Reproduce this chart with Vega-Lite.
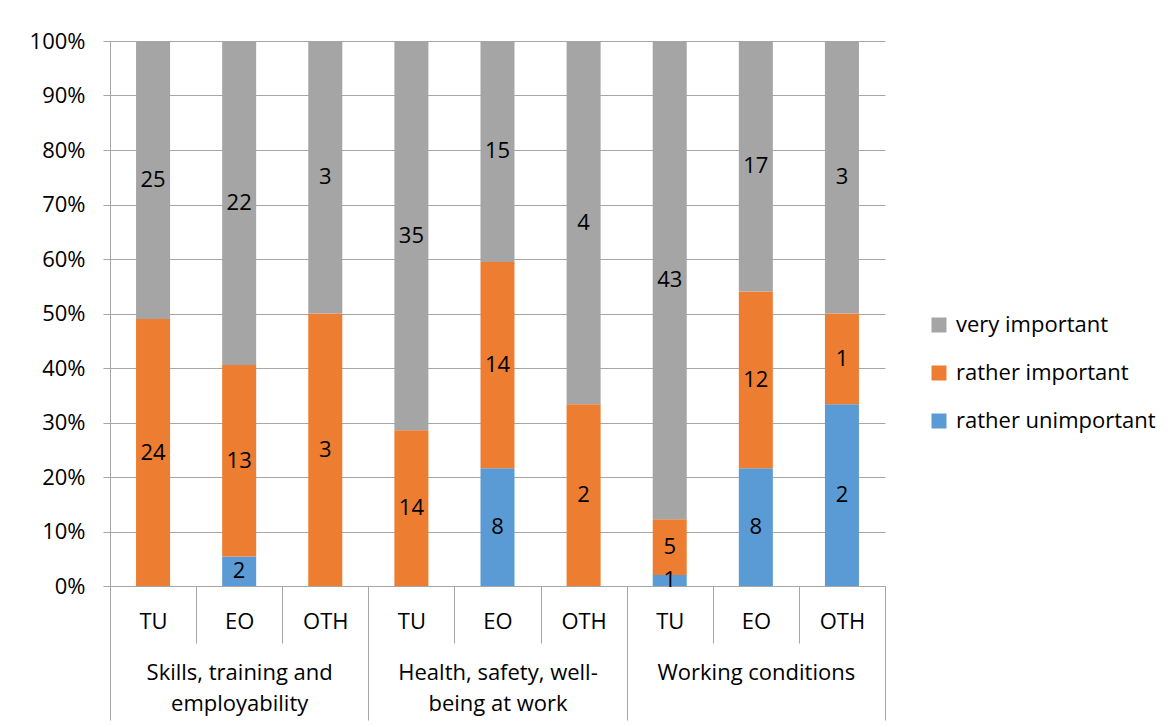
{
  "$schema": "https://vega.github.io/schema/vega-lite/v6.json",
  "autosize": {"type": "none"},
  "padding": {"left": 110, "top": 41, "right": 288, "bottom": 141},
  "width": 775,
  "height": 545,
  "background": "white",
  "config": {
    "font": "Open Sans",
    "view": {"stroke": null},
    "axis": {"labelFont": "Open Sans", "labelFontSize": 22, "labelColor": "#000000", "titleFont": "Open Sans", "labelLimit": 400},
    "legend": {"labelLimit": 400}
  },
  "data": {
    "values": [
      {"topic": "Skills, training and employability", "org": "TU", "key": "1|TU", "level": "rather important", "rank": 2, "count": 24},
      {"topic": "Skills, training and employability", "org": "TU", "key": "1|TU", "level": "very important", "rank": 3, "count": 25},
      {"topic": "Skills, training and employability", "org": "EO", "key": "1|EO", "level": "rather unimportant", "rank": 1, "count": 2},
      {"topic": "Skills, training and employability", "org": "EO", "key": "1|EO", "level": "rather important", "rank": 2, "count": 13},
      {"topic": "Skills, training and employability", "org": "EO", "key": "1|EO", "level": "very important", "rank": 3, "count": 22},
      {"topic": "Skills, training and employability", "org": "OTH", "key": "1|OTH", "level": "rather important", "rank": 2, "count": 3},
      {"topic": "Skills, training and employability", "org": "OTH", "key": "1|OTH", "level": "very important", "rank": 3, "count": 3},
      {"topic": "Health, safety, well-being at work", "org": "TU", "key": "2|TU", "level": "rather important", "rank": 2, "count": 14},
      {"topic": "Health, safety, well-being at work", "org": "TU", "key": "2|TU", "level": "very important", "rank": 3, "count": 35},
      {"topic": "Health, safety, well-being at work", "org": "EO", "key": "2|EO", "level": "rather unimportant", "rank": 1, "count": 8},
      {"topic": "Health, safety, well-being at work", "org": "EO", "key": "2|EO", "level": "rather important", "rank": 2, "count": 14},
      {"topic": "Health, safety, well-being at work", "org": "EO", "key": "2|EO", "level": "very important", "rank": 3, "count": 15},
      {"topic": "Health, safety, well-being at work", "org": "OTH", "key": "2|OTH", "level": "rather important", "rank": 2, "count": 2},
      {"topic": "Health, safety, well-being at work", "org": "OTH", "key": "2|OTH", "level": "very important", "rank": 3, "count": 4},
      {"topic": "Working conditions", "org": "TU", "key": "3|TU", "level": "rather unimportant", "rank": 1, "count": 1},
      {"topic": "Working conditions", "org": "TU", "key": "3|TU", "level": "rather important", "rank": 2, "count": 5},
      {"topic": "Working conditions", "org": "TU", "key": "3|TU", "level": "very important", "rank": 3, "count": 43},
      {"topic": "Working conditions", "org": "EO", "key": "3|EO", "level": "rather unimportant", "rank": 1, "count": 8},
      {"topic": "Working conditions", "org": "EO", "key": "3|EO", "level": "rather important", "rank": 2, "count": 12},
      {"topic": "Working conditions", "org": "EO", "key": "3|EO", "level": "very important", "rank": 3, "count": 17},
      {"topic": "Working conditions", "org": "OTH", "key": "3|OTH", "level": "rather unimportant", "rank": 1, "count": 2},
      {"topic": "Working conditions", "org": "OTH", "key": "3|OTH", "level": "rather important", "rank": 2, "count": 1},
      {"topic": "Working conditions", "org": "OTH", "key": "3|OTH", "level": "very important", "rank": 3, "count": 3}
    ]
  },
  "layer": [
    {
      "encoding": {
        "x": {
          "field": "key", "type": "nominal", "sort": null,
          "scale": {"paddingInner": 0, "paddingOuter": 0},
          "axis": {
            "title": null, "labelAngle": 0, "labelExpr": "split(datum.label, '|')[1]",
            "tickBand": "extent", "tickSize": 57, "tickColor": "#A6A6A6", "domainColor": "#A6A6A6",
            "labelPadding": -32, "labelBaseline": "top", "grid": false
          }
        },
        "y": {
          "field": "count", "type": "quantitative", "stack": "normalize",
          "scale": {"domain": [0, 1]},
          "axis": {
            "title": null, "format": ".0%", "values": [0, 0.1, 0.2, 0.3, 0.4, 0.5, 0.6, 0.7, 0.8, 0.9, 1],
            "tickSize": 7, "labelPadding": 18, "tickColor": "#A6A6A6", "domainColor": "#A6A6A6",
            "gridColor": "#A6A6A6", "grid": true
          }
        },
        "order": {"field": "rank", "type": "quantitative", "sort": "ascending"}
      },
      "layer": [
        {
          "mark": {"type": "bar", "width": {"band": 0.395}},
          "encoding": {
            "color": {
              "field": "level", "type": "nominal",
              "scale": {"domain": ["very important", "rather important", "rather unimportant"], "range": ["#A5A5A5", "#ED7D31", "#5B9BD5"]},
              "legend": {
                "title": null, "orient": "none", "legendX": 818, "legendY": 273,
                "symbolType": "square", "symbolSize": 225, "symbolStrokeWidth": 0,
                "labelFont": "Open Sans", "labelFontSize": 22, "labelColor": "#000000",
                "labelOffset": 6, "rowPadding": 26, "labelLimit": 400
              }
            }
          }
        },
        {
          "mark": {"type": "text", "font": "Open Sans", "fontSize": 22, "color": "#000000", "baseline": "middle"},
          "encoding": {
            "y": {"field": "count", "type": "quantitative", "stack": "normalize", "bandPosition": 0.5},
            "detail": {"field": "level"},
            "text": {"field": "count", "type": "quantitative"}
          }
        }
      ]
    },
    {
      "mark": {"type": "text", "opacity": 0, "text": ""},
      "encoding": {
        "x": {
          "field": "topic", "type": "nominal", "sort": null,
          "scale": {"paddingInner": 0, "paddingOuter": 0},
          "axis": {
            "title": null, "orient": "bottom", "labelAngle": 0, "domain": false,
            "tickBand": "extent", "tickSize": 134, "tickColor": "#A6A6A6",
            "labelPadding": -58, "labelBaseline": "top", "labelLineHeight": 31, "labelLimit": 400,
            "labelExpr": "datum.value == 'Skills, training and employability' ? ['Skills, training and', 'employability'] : datum.value == 'Health, safety, well-being at work' ? ['Health, safety, well-', 'being at work'] : datum.label",
            "grid": false
          }
        }
      }
    }
  ],
  "resolve": {"scale": {"x": "independent"}, "axis": {"x": "independent"}}
}
